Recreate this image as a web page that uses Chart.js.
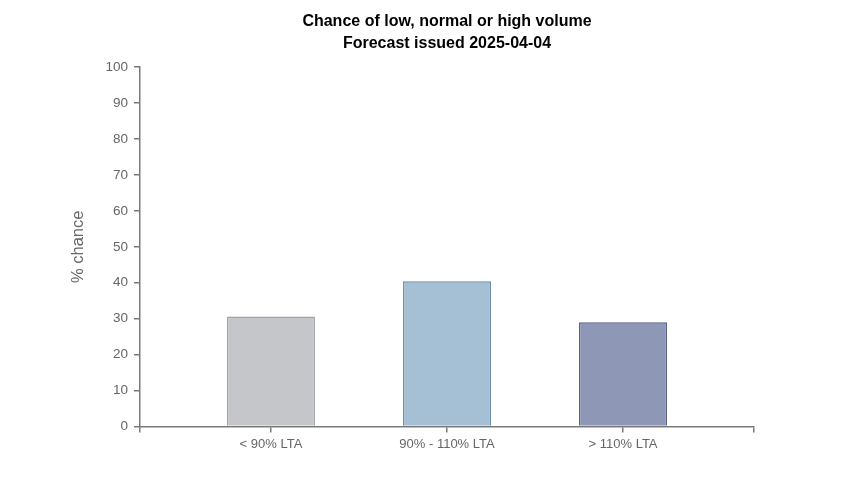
<!DOCTYPE html>
<html>
<head>
<meta charset="utf-8">
<script src="https://cdn.jsdelivr.net/npm/chart.js@4/dist/chart.umd.min.js"></script>
<style>
  html, body { margin: 0; padding: 0; background: #fff; }
  #wrap { width: 852px; height: 488px; }
</style>
</head>
<body>
<div id="wrap"><canvas id="chart" width="852" height="488"></canvas></div>
<script>
const categories = ['< 90% LTA', '90% - 110% LTA', '> 110% LTA'];
const chances = [30.6, 40.4, 29.0];
const yTicks = [0, 10, 20, 30, 40, 50, 60, 70, 80, 90, 100];
const titleLines = ['Chance of low, normal or high volume', 'Forecast issued 2025-04-04'];
const yTitle = '% chance';

const fills = ['#c4c6ca', '#a5bfd4', '#8e97b5'];
const borders = ['#a0a3a8', '#6a8fb0', '#56618a'];
const axisGrey = '#7a7a7a';
const textGrey = '#666666';

// outer padding of the band axis, in category steps
const outer = 0.744;
const xMin = -outer;
const xMax = categories.length - 1 + outer;

const ctx = document.getElementById('chart').getContext('2d');
new Chart(ctx, {
    type: 'bar',
    data: {
        datasets: [{
            data: chances.map((v, i) => ({ x: i, y: v })),
            backgroundColor: fills,
            borderColor: borders,
            borderWidth: 1.5,
            // bar is half a category step; the ruler measures from the end tick (outer step)
            barPercentage: 0.5 / outer,
            categoryPercentage: 1
        }]
    },
    options: {
        responsive: false,
        animation: false,
        devicePixelRatio: 1,
        layout: { padding: { left: 0, right: 98, top: 0, bottom: 32 } },
        plugins: {
            legend: { display: false },
            tooltip: { enabled: false },
            title: {
                display: true,
                text: titleLines,
                fullSize: false,
                color: '#000',
                font: { family: 'Liberation Sans', size: 16, weight: 'bold', lineHeight: 1.35 },
                padding: { top: 11, bottom: 13 }
            }
        },
        scales: {
            x: {
                type: 'linear',
                min: xMin,
                max: xMax,
                offset: false,
                afterBuildTicks: scale => {
                    scale.ticks = [xMin, ...categories.map((c, i) => i), xMax].map(v => ({ value: v }));
                },
                ticks: {
                    autoSkip: false,
                    maxRotation: 0,
                    color: textGrey,
                    font: { family: 'Liberation Sans', size: 13 },
                    padding: 4,
                    callback: v => categories[v] !== undefined && Number.isInteger(v) ? categories[v] : ''
                },
                grid: { drawOnChartArea: false, offset: false, tickLength: 6, color: axisGrey, lineWidth: 1.5 },
                border: { display: true, color: axisGrey, width: 1.5 }
            },
            y: {
                min: 0,
                max: 100,
                afterBuildTicks: scale => { scale.ticks = yTicks.map(v => ({ value: v })); },
                afterFit: scale => { scale.width = 140; },
                ticks: {
                    color: textGrey,
                    font: { family: 'Liberation Sans', size: 13.5 },
                    padding: 6
                },
                title: {
                    display: true,
                    text: yTitle,
                    color: textGrey,
                    font: { family: 'Liberation Sans', size: 16.5 },
                    padding: { top: 69 }
                },
                grid: { drawOnChartArea: false, tickLength: 6, color: axisGrey, lineWidth: 1.5 },
                border: { display: true, color: axisGrey, width: 1.5 }
            }
        }
    }
});
</script>
</body>
</html>
